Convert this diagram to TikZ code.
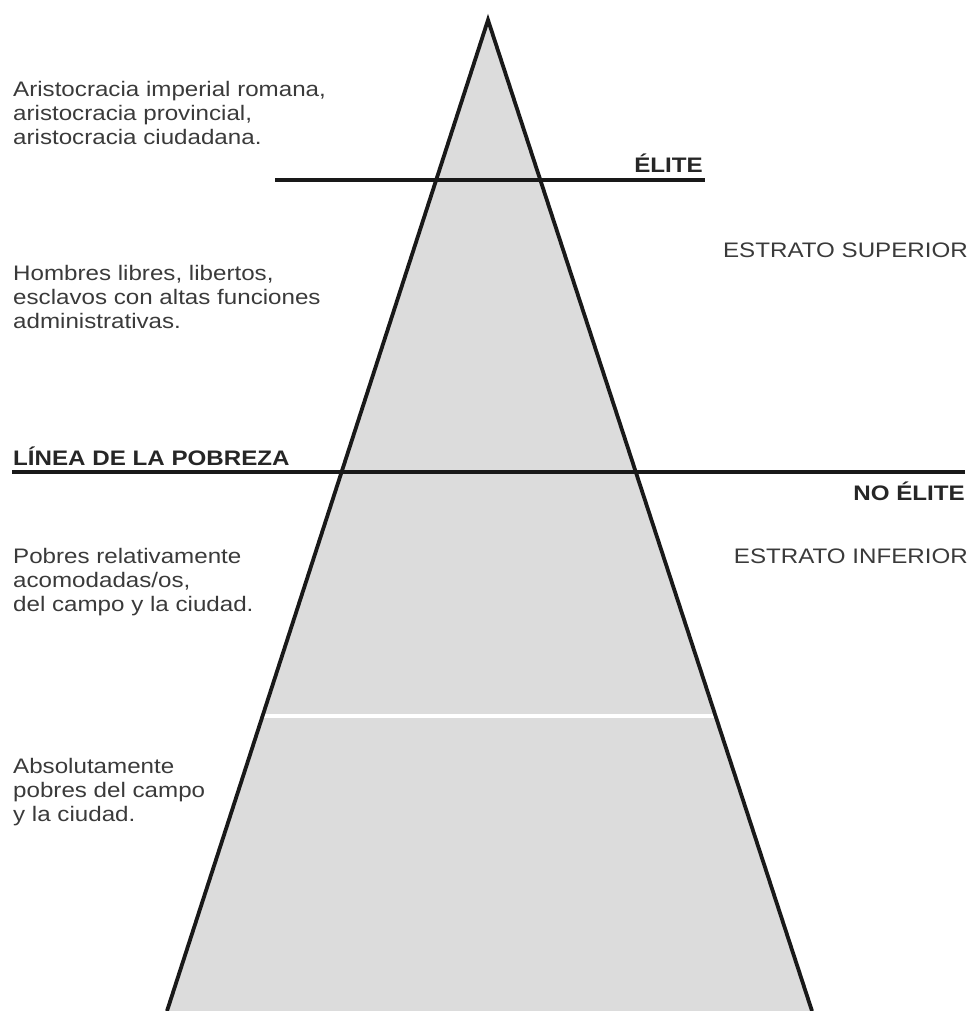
\documentclass[tikz,border=0pt]{standalone}
\usepackage{fontspec}
\setmainfont{Liberation Sans}[FakeStretch=1.15]
\definecolor{piramide}{HTML}{DCDCDC}
\definecolor{texto}{HTML}{3A3A3A}
\begin{document}
\begin{tikzpicture}[x=1pt,y=-1pt,
    linea/.style={line width=4.2pt, black!90},
    lado/.style={line width=3.8pt, black!90, line join=miter},
    txt/.style={anchor=north west, inner sep=0pt, align=left, text=texto, font=\fontsize{21}{24}\selectfont},
    etiq/.style={inner sep=0pt, text=black!85, font=\bfseries\fontsize{21}{24}\selectfont}]
  \useasboundingbox (0,0) rectangle (974,1011);
  \coordinate (cima) at (488,20);
  \coordinate (bi) at (167,1011);
  \coordinate (bd) at (812,1011);
  \fill [piramide] (cima)--(bi)--(bd)--cycle;
  \begin{scope}
    \clip (cima)--(bi)--(bd)--cycle;
    \coordinate (bl1) at (0,716);
    \coordinate (bl2) at (974,716);
    \draw [white, line width=4pt] (bl1)--(bl2);
  \end{scope}
  \coordinate (e1) at (275,180);
  \coordinate (e2) at (705,180);
  \coordinate (p1) at (12,472);
  \coordinate (p2) at (965,472);
  \draw [linea] (e1)--(e2);
  \draw [linea] (p1)--(p2);
  \draw [lado] (bi)--(cima)--(bd);
  \node [etiq, anchor=base east] (elite) at (703,172) {ÉLITE};
  \node [etiq, anchor=base west] (pobreza) at (13,465) {LÍNEA DE LA POBREZA};
  \node [etiq, anchor=base east] (noelite) at (965,500) {NO ÉLITE};
  \node [txt, anchor=base east] (superior) at (968,257) {ESTRATO SUPERIOR};
  \node [txt, anchor=base east] (inferior) at (968,563) {ESTRATO INFERIOR};
  \node [txt] (aristocracia) at (13,81) {Aristocracia imperial romana,\\aristocracia provincial,\\aristocracia ciudadana.};
  \node [txt] (hombres) at (13,265) {Hombres libres, libertos,\\esclavos con altas funciones\\administrativas.};
  \node [txt] (relativos) at (13,548) {Pobres relativamente\\acomodadas/os,\\del campo y la ciudad.};
  \node [txt] (absolutos) at (13,758) {Absolutamente\\pobres del campo\\y la ciudad.};
\end{tikzpicture}
\end{document}
